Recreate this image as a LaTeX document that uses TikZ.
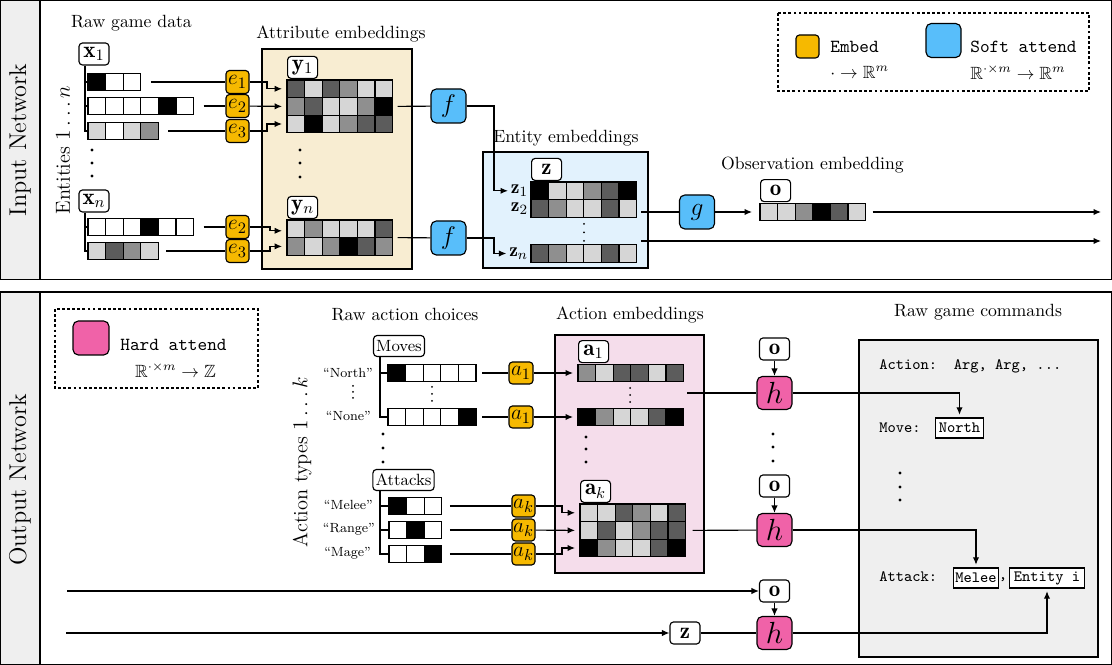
\documentclass[tikz,border=0pt]{standalone}
\usepackage{amssymb}
\usepackage{fontspec}
\usetikzlibrary{arrows.meta}
\newdimen\pxu \pxu=0.565pt
\definecolor{cEmb}{RGB}{246,185,0}
\definecolor{cSoft}{RGB}{88,190,250}
\definecolor{cHard}{RGB}{240,98,168}
\definecolor{cBeige}{RGB}{248,237,210}
\definecolor{cLblue}{RGB}{226,242,253}
\definecolor{cLpink}{RGB}{245,221,235}
\definecolor{cStrip}{RGB}{239,239,239}
\definecolor{cK}{gray}{0}
\definecolor{cD}{gray}{0.36}
\definecolor{cM}{gray}{0.56}
\definecolor{cL}{gray}{0.84}
\definecolor{cW}{gray}{1}
\tikzset{
  every node/.style={font=\fontsize{10}{12}\selectfont},
  ln/.style={line width=0.65pt},
  arr/.style={line width=0.65pt,-{Latex[length=4.2pt,width=3.6pt]}},
  cell/.style={draw,line width=0.75pt,minimum size=17.6\pxu,inner sep=0pt,outer sep=0pt},
  lbl/.style={draw,fill=white,rounded corners=2pt,line width=0.65pt,minimum width=30\pxu,minimum height=22\pxu,inner sep=0.5pt,font=\fontsize{13}{14}\selectfont},
  lblt/.style={draw,fill=white,rounded corners=2pt,line width=0.65pt,minimum height=21\pxu,inner sep=1.5pt,font=\fontsize{9.2}{11}\selectfont},
  embedbox/.style={draw,fill=cEmb,rounded corners=2pt,line width=0.65pt,minimum width=23\pxu,minimum height=23\pxu,inner sep=0pt,font=\fontsize{12.5}{13}\selectfont},
  softbox/.style={draw,fill=cSoft,rounded corners=3pt,line width=0.65pt,minimum width=35\pxu,minimum height=34\pxu,inner sep=0pt,font=\fontsize{15}{17}\selectfont},
  hardbox/.style={draw,fill=cHard,rounded corners=3pt,line width=0.65pt,minimum width=35\pxu,minimum height=33\pxu,inner sep=0pt,font=\fontsize{17}{19}\selectfont},
  regbox/.style={draw,line width=0.65pt},
  legbox/.style={draw,line width=0.65pt,dash pattern=on 1.6pt off 1.3pt},
  mybig/.style={font=\fontsize{13.7}{16}\selectfont},
  mymid/.style={font=\fontsize{11.5}{13}\selectfont},
  zlab/.style={font=\fontsize{11}{12}\selectfont,anchor=east,inner xsep=1.5pt,inner ysep=0pt},
  mysmall/.style={font=\fontsize{7.5}{9}\selectfont},
  ttleg/.style={font=\fontsize{10.4}{12}\selectfont\ttfamily},
  cmdtxt/.style={font=\fontsize{8.9}{11}\selectfont\ttfamily},
  cmdbox/.style={draw,fill=white,line width=0.65pt,inner xsep=2pt,inner ysep=0pt,minimum height=20\pxu,font=\fontsize{8.9}{11}\selectfont\ttfamily},
}
\newcommand\cellrow[4]{%
  \foreach \c [count=\i] in {#4}{%
    \node[cell,fill=\c] (#1-\i) at ({#2+(\i-0.5)*17.6},#3) {};
  }%
}
\newcommand\bigdots[4]{\fill (#1,#2) circle (1.6) (#1,#3) circle (1.6) (#1,#4) circle (1.6);}
\newcommand\smalldots[4]{\fill (#1,#2) circle (1.0) (#1,#3) circle (1.0) (#1,#4) circle (1.0);}
\begin{document}
\begin{tikzpicture}[x=0.565pt,y=-0.565pt]
\useasboundingbox (0,0) rectangle (1112,665);
% ===== frames =====
\draw[line width=0.75pt,fill=cStrip] (0.5,0.5) rectangle (40,279.5);
\draw[line width=0.75pt] (0.5,0.5) rectangle (1111.5,279.5);
\draw[line width=0.75pt,fill=cStrip] (0.5,292) rectangle (40,664.5);
\draw[line width=0.75pt] (0.5,292) rectangle (1111.5,664.5);
\node[mybig,rotate=90] (inet) at (20,140) {Input Network};
\node[mybig,rotate=90] (onet) at (20,480) {Output Network};

% ===== INPUT NETWORK =====
\node (rawgame) at (131.5,23) {Raw game data};
\node[mymid,rotate=90] (entities) at (63,150) {Entities $1\ldots n$};
\draw[regbox,fill=cBeige] (262,49) rectangle (412,269);
\node (attrlbl) at (341,34) {Attribute embeddings};
\draw[regbox,fill=cLblue] (483,152) rectangle (648,268);
\node (entlbl) at (566,138) {Entity embeddings};
\node (obslbl) at (812.5,165) {Observation embedding};

% raw bars
\node[lbl] (x1) at (94,54) {$\mathbf{x}_1$};
\node[lbl] (xn) at (94,201) {$\mathbf{x}_n$};
\cellrow{b1}{88}{82}{cK,cW,cW}
\cellrow{b2}{88}{106}{cW,cW,cW,cW,cK,cW}
\cellrow{b3}{88}{131}{cL,cW,cL,cM}
\cellrow{bn1}{88}{227}{cW,cW,cW,cK,cW,cW}
\cellrow{bn2}{88}{251}{cL,cD,cM,cL}
\draw[ln] ([xshift=-9\pxu]x1.south) |- (b3-1.west);
\draw[ln] ([xshift=-3\pxu]b1-1.west) -- (b1-1.west);
\draw[ln] ([xshift=-3\pxu]b2-1.west) -- (b2-1.west);
\draw[ln] ([xshift=-9\pxu]xn.south) |- (bn2-1.west);
\draw[ln] ([xshift=-3\pxu]bn1-1.west) -- (bn1-1.west);
\bigdots{92}{150}{163}{176}

% attribute embeddings
\cellrow{y1r1}{287}{88.8}{cD,cL,cD,cM,cL,cL}
\cellrow{y1r2}{287}{106.4}{cM,cD,cL,cL,cM,cK}
\cellrow{y1r3}{287}{124}{cL,cK,cL,cM,cD,cD}
\node[lbl,anchor=south west] (y1) at ([yshift=1\pxu]y1r1-1.north west) {$\mathbf{y}_1$};
\cellrow{ynr1}{287}{228.8}{cL,cM,cL,cL,cL,cD}
\cellrow{ynr2}{287}{246.4}{cM,cL,cM,cK,cD,cM}
\node[lbl,anchor=south west] (yn) at ([yshift=1\pxu]ynr1-1.north west) {$\mathbf{y}_n$};
\bigdots{300}{150}{163}{177}

% embed boxes
\node[embedbox] (e1) at (237.5,82) {$e_1$};
\node[embedbox] (e2) at (237.5,106) {$e_2$};
\node[embedbox] (e3) at (237.5,131) {$e_3$};
\node[embedbox] (e2n) at (237.5,227) {$e_2$};
\node[embedbox] (e3n) at (237.5,251) {$e_3$};
\draw[ln] ([xshift=10\pxu]b1-3.east) -- (e1);
\draw[ln] ([xshift=10\pxu]b2-6.east) -- (e2);
\draw[ln] ([xshift=10\pxu]b3-4.east) -- (e3);
\draw[ln] ([xshift=10\pxu]bn1-6.east) -- (e2n);
\draw[ln] ([xshift=8\pxu]bn2-4.east) -- (e3n);
\draw[arr] (e1) -- ++(29.5,0) |- ([xshift=-5\pxu]y1r1-1.west);
\draw[arr] (e2) -- ([xshift=-5\pxu]y1r2-1.west);
\draw[arr] (e3) -- ++(29.5,0) |- ([xshift=-5\pxu]y1r3-1.west);
\draw[arr] (e2n) -- ++(32.5,0) |- ([xshift=-5\pxu,yshift=-2\pxu]ynr1-1.west);
\draw[arr] (e3n) -- ++(32.5,0) |- ([xshift=-5\pxu]ynr2-1.west);

% soft attend f
\node[softbox] (f1) at (448.5,106) {$f$};
\node[softbox] (f2) at (448.5,238) {$f$};
\draw[ln] ([xshift=5\pxu]y1r2-6.east) -- (f1);
\draw[ln] ([xshift=5\pxu]ynr1-6.south east) -- (f2);

% entity embeddings
\cellrow{zr1}{531}{190.8}{cK,cL,cL,cM,cD,cK}
\cellrow{zr2}{531}{208.4}{cD,cM,cL,cL,cD,cL}
\cellrow{zrn}{531}{253.5}{cD,cM,cL,cL,cD,cL}
\node[lbl,anchor=south west] (z) at ([yshift=1\pxu]zr1-1.north west) {$\mathbf{z}$};
\node[zlab] (z1l) at (zr1-1.west) {$\mathbf{z}_1$};
\node[zlab] (z2l) at (zr2-1.west) {$\mathbf{z}_2$};
\node[zlab] (znl) at (zrn-1.west) {$\mathbf{z}_n$};
\smalldots{584}{224}{232.5}{241}
\draw[arr] (f1) -- ++(45.5,0) |- (z1l.west);
\draw[arr] (f2) -- ++(45.5,0) |- (znl.west);

% g and observation
\node[softbox] (g) at (697,212) {$g$};
\coordinate (zo1) at (641,212);
\coordinate (zo2) at (641,241);
\draw[ln] (zo1) -- (g);
\cellrow{or}{760}{212}{cL,cL,cM,cK,cD,cL}
\node[lbl,anchor=south west] (o) at ([yshift=1\pxu]or-1.north west) {$\mathbf{o}$};
\draw[arr] (g) -- ([xshift=-8\pxu]or-1.west);
\coordinate (out1) at (1101,212);
\coordinate (out2) at (1101,241);
\draw[arr] ([xshift=7\pxu]or-6.east) -- (out1);
\draw[arr] (zo2) -- (out2);

% legend top
\draw[legbox] (778,13) rectangle (1089,91);
\node[embedbox] (legE) at (807.5,46.5) {};
\node[ttleg,anchor=west,inner sep=0pt] (legEt) at (830,47) {Embed};
\node[anchor=west,inner sep=0pt] (legEm) at (830,72) {$\cdot\to\mathbb{R}^m$};
\node[softbox] (legS) at (943.5,40.5) {};
\node[ttleg,anchor=west,inner sep=0pt] (legSt) at (970,47) {Soft attend};
\node[anchor=west,inner sep=0pt] (legSm) at (970,72) {$\mathbb{R}^{\cdot\times m}\to\mathbb{R}^m$};

% ===== OUTPUT NETWORK =====
\draw[legbox] (55,309) rectangle (258,388);
\node[hardbox,minimum height=34\pxu,minimum width=36\pxu] (legH) at (91,338) {};
\node[ttleg,anchor=west,inner sep=0pt] (legHt) at (120,345) {Hard attend};
\node[inner sep=0pt] (legHm) at (175.5,370) {$\mathbb{R}^{\cdot\times m}\to\mathbb{Z}$};

\node (rawact) at (405,315) {Raw action choices};
\node (actemb) at (630,315) {Action embeddings};
\node (rawcmd) at (978,312) {Raw game commands};
\node[mymid,rotate=90] (acttypes) at (302,462) {Action types $1\ldots k$};

\draw[regbox,fill=cLpink] (555,335) rectangle (704,573);
\draw[regbox,fill=cStrip] (859,340) rectangle (1098,657);

% moves
\node[lblt] (moves) at (399,346) {Moves};
\cellrow{nr1}{388}{373}{cK,cW,cW,cW,cW}
\cellrow{nr2}{388}{417}{cW,cW,cW,cW,cK}
\draw[ln] ([xshift=-19\pxu]moves.south) |- (nr2-1.west);
\draw[ln] ([xshift=-8\pxu]nr1-1.west) -- (nr1-1.west);
\node[mysmall,anchor=east,inner sep=1pt] (lnorth) at (375,373) {``North''};
\node[mysmall,anchor=east,inner sep=1pt] (lnone) at (373,416) {``None''};
\smalldots{353}{386}{392}{398}
\smalldots{432}{387}{394}{401}
\bigdots{383}{434}{448}{462}

% attacks
\node[lblt] (attacks) at (403.5,480) {Attacks};
\cellrow{mr1}{389}{506}{cK,cW,cW}
\cellrow{mr2}{389}{530}{cW,cK,cW}
\cellrow{mr3}{389}{554}{cW,cW,cK}
\draw[ln] ([xshift=-23.5\pxu]attacks.south) |- (mr3-1.west);
\draw[ln] ([xshift=-9\pxu]mr1-1.west) -- (mr1-1.west);
\draw[ln] ([xshift=-9\pxu]mr2-1.west) -- (mr2-1.west);
\node[mysmall,anchor=east,inner sep=1pt] (lmelee) at (375,505) {``Melee''};
\node[mysmall,anchor=east,inner sep=1pt] (lrange) at (377,529) {``Range''};
\node[mysmall,anchor=east,inner sep=1pt] (lmage) at (373,553) {``Mage''};

% a boxes
\node[embedbox,minimum width=24\pxu,minimum height=22\pxu] (a1a) at (521,373) {$a_1$};
\node[embedbox,minimum width=24\pxu,minimum height=22\pxu] (a1b) at (521,417) {$a_1$};
\node[embedbox,minimum height=22\pxu] (aka) at (523.5,506) {$a_k$};
\node[embedbox,minimum height=22\pxu] (akb) at (523.5,530) {$a_k$};
\node[embedbox,minimum height=22\pxu] (akc) at (523.5,554) {$a_k$};
\draw[ln] ([xshift=6\pxu]nr1-5.east) -- (a1a);
\draw[ln] ([xshift=6\pxu]nr2-5.east) -- (a1b);
\draw[ln] ([xshift=8\pxu]mr1-3.east) -- (aka);
\draw[ln] ([xshift=8\pxu]mr2-3.east) -- (akb);
\draw[ln] ([xshift=8\pxu]mr3-3.east) -- (akc);

% action embeddings
\cellrow{ar1}{578}{373}{cM,cL,cD,cD,cL,cD}
\cellrow{ar2}{578}{417}{cK,cM,cL,cL,cD,cK}
\node[lbl,anchor=south west] (a1) at ([yshift=1\pxu]ar1-1.north west) {$\mathbf{a}_1$};
\smalldots{630}{388}{395}{402}
\bigdots{586}{437}{449}{462}
\cellrow{kr1}{580}{512.8}{cL,cL,cD,cM,cL,cD}
\cellrow{kr2}{580}{530.4}{cL,cD,cL,cM,cD,cD}
\cellrow{kr3}{580}{548}{cK,cM,cL,cL,cD,cK}
\node[lbl,anchor=south west] (ak) at ([yshift=1\pxu]kr1-1.north west) {$\mathbf{a}_k$};
\draw[arr] (a1a) -- ([xshift=-5\pxu]ar1-1.west);
\draw[arr] (a1b) -- ([xshift=-5\pxu]ar2-1.west);
\draw[arr] (aka) -- ++(38.5,0) |- ([xshift=-5\pxu]kr1-1.west);
\draw[arr] (akb) -- ([xshift=-5\pxu]kr2-1.west);
\draw[arr] (akc) -- ++(38.5,0) |- ([xshift=-5\pxu]kr3-1.west);

% hard attend column
\node[lbl] (o1) at (774.5,349) {$\mathbf{o}$};
\node[hardbox] (h1) at (774.5,393) {$h$};
\node[lbl] (o2) at (774.5,486) {$\mathbf{o}$};
\node[hardbox] (h2) at (774.5,530) {$h$};
\node[lbl] (o3) at (774.5,591) {$\mathbf{o}$};
\node[hardbox] (h3) at (774.5,633) {$h$};
\node[lbl] (zb) at (685,633) {$\mathbf{z}$};
\draw[arr] (o1) -- (h1);
\draw[arr] (o2) -- (h2);
\draw[arr] (o3) -- (h3);
\bigdots{773}{434}{447}{461}
\coordinate (ao1) at (687,393);
\draw[ln] (ao1) -- (h1);
\draw[ln] ([xshift=7\pxu]kr2-6.east) -- (h2);
\coordinate (in1) at (67,591);
\coordinate (in2) at (66,633);
\draw[arr] (in1) -- (o3);
\draw[arr] (in2) -- (zb);
\draw[ln] (zb) -- (h3);

% raw game commands
\node[cmdtxt,anchor=west,inner sep=0pt] (cmdhead) at (879,366) {Action:~~Arg, Arg, ...};
\node[cmdtxt,anchor=west,inner sep=0pt] (cmdmove) at (879,428) {Move:};
\node[cmdbox] (north) at (959.5,428) {North};
\bigdots{900}{473}{487}{500}
\node[cmdtxt,anchor=west,inner sep=0pt] (cmdatt) at (879,577) {Attack:};
\node[cmdbox,inner xsep=1.2pt] (melee) at (976,578) {Melee};
\node[cmdtxt,inner sep=0pt] (comma) at (1003,580) {,};
\node[cmdbox,inner xsep=2.5pt] (entity) at (1047,578) {Entity i};
\draw[arr,shorten >=1.5pt] (h1) -| (north);
\draw[arr,shorten >=1.5pt] (h2) -| (melee);
\draw[arr,shorten >=1.5pt] (h3) -| (entity);
\end{tikzpicture}
\end{document}
